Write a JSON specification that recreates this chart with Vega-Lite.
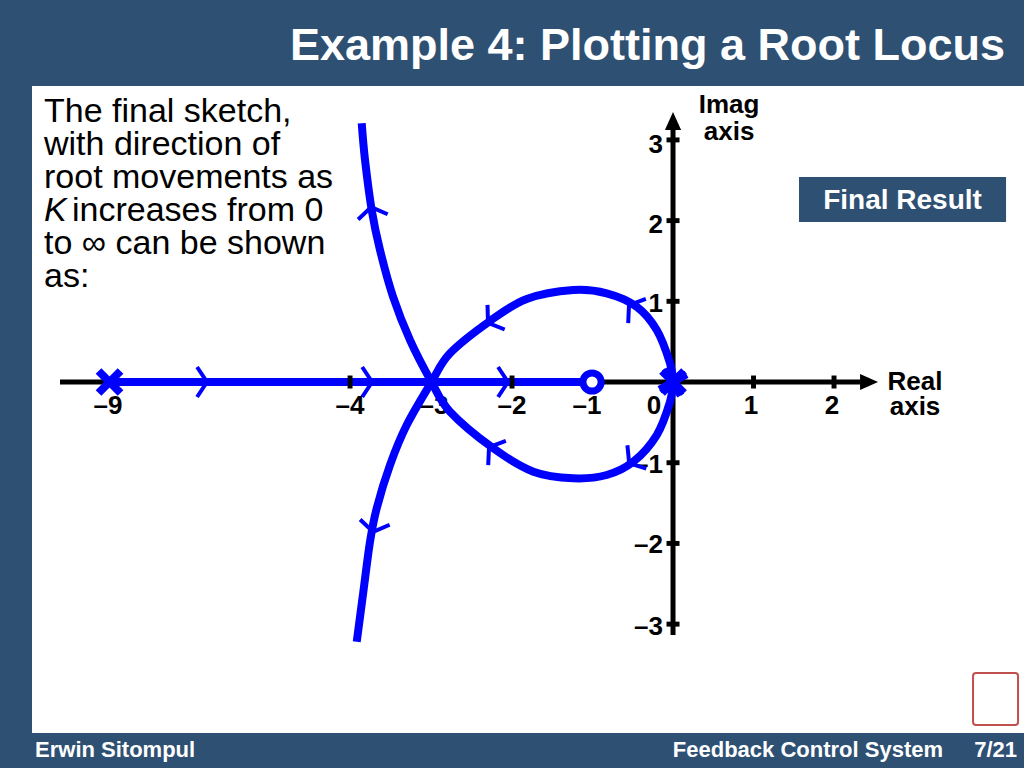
{
  "$schema": "https://vega.github.io/schema/vega-lite/v6.json",
  "width": 992,
  "height": 647,
  "autosize": {"type": "none"},
  "padding": {"left": 32, "top": 86, "right": 0, "bottom": 35},
  "background": "#2e5073",
  "view": {"fill": "#ffffff", "stroke": null},
  "config": {"font": "Liberation Sans"},
  "datasets": {
    "axisH": [{"x": -7.615, "x2": 2.33, "y": 0}],
    "axisV": [{"x": 0, "y": -3.135, "y2": 3.13}],
    "arrows": [{"x": 2.435, "y": 0, "dir": "right"}, {"x": 0, "y": 3.234, "dir": "up"}],
    "realLocus": [{"branch": "R", "order": 1, "x": -7, "y": 0}, {"branch": "R", "order": 2, "x": -1, "y": 0}],
    "ticksX": [{"x": -4.012, "y": 0}, {"x": -3, "y": 0}, {"x": -2, "y": 0}, {"x": -1, "y": 0}, {"x": 1, "y": 0}, {"x": 2, "y": 0}],
    "ticksY": [{"x": 0, "y": 3}, {"x": 0, "y": 2}, {"x": 0, "y": 1}, {"x": 0, "y": -1}, {"x": 0, "y": -2}, {"x": 0, "y": -3}],
    "locus": [
      {"branch": "A", "order": 1, "x": -3.867, "y": 3.206},
      {"branch": "A", "order": 2, "x": -3.826, "y": 2.751},
      {"branch": "A", "order": 3, "x": -3.743, "y": 2.131},
      {"branch": "A", "order": 4, "x": -3.64, "y": 1.636},
      {"branch": "A", "order": 5, "x": -3.478, "y": 1.057},
      {"branch": "A", "order": 6, "x": -3.267, "y": 0.52},
      {"branch": "A", "order": 7, "x": -3.0, "y": 0.0},
      {"branch": "A", "order": 8, "x": -2.77, "y": -0.368},
      {"branch": "A", "order": 9, "x": -2.232, "y": -0.822},
      {"branch": "A", "order": 10, "x": -1.735, "y": -1.112},
      {"branch": "A", "order": 11, "x": -1.239, "y": -1.193},
      {"branch": "A", "order": 12, "x": -0.824, "y": -1.152},
      {"branch": "A", "order": 13, "x": -0.493, "y": -0.987},
      {"branch": "A", "order": 14, "x": -0.202, "y": -0.657},
      {"branch": "A", "order": 15, "x": -0.037, "y": -0.244},
      {"branch": "A", "order": 16, "x": 0, "y": 0},
      {"branch": "B", "order": 1, "x": -3.929, "y": -3.218},
      {"branch": "B", "order": 2, "x": -3.847, "y": -2.599},
      {"branch": "B", "order": 3, "x": -3.764, "y": -1.979},
      {"branch": "B", "order": 4, "x": -3.681, "y": -1.565},
      {"branch": "B", "order": 5, "x": -3.516, "y": -1.029},
      {"branch": "B", "order": 6, "x": -3.308, "y": -0.533},
      {"branch": "B", "order": 7, "x": -3.0, "y": 0.0},
      {"branch": "B", "order": 8, "x": -2.77, "y": 0.356},
      {"branch": "B", "order": 9, "x": -2.273, "y": 0.756},
      {"branch": "B", "order": 10, "x": -1.817, "y": 1.029},
      {"branch": "B", "order": 11, "x": -1.239, "y": 1.14},
      {"branch": "B", "order": 12, "x": -0.824, "y": 1.099},
      {"branch": "B", "order": 13, "x": -0.451, "y": 0.933},
      {"branch": "B", "order": 14, "x": -0.202, "y": 0.644},
      {"branch": "B", "order": 15, "x": -0.037, "y": 0.232},
      {"branch": "B", "order": 16, "x": 0, "y": 0}
    ],
    "chevrons": [
      {"x": -5.851, "y": 0, "heading": 0},
      {"x": -3.8, "y": 0, "heading": 0},
      {"x": -2.112, "y": 0, "heading": 0},
      {"x": -3.739, "y": 2.107, "heading": -100},
      {"x": -3.714, "y": -1.797, "heading": 100},
      {"x": -2.248, "y": 0.768, "heading": 145},
      {"x": -0.497, "y": 0.917, "heading": -144},
      {"x": -2.236, "y": -0.843, "heading": -144},
      {"x": -0.497, "y": -0.967, "heading": 141}
    ],
    "poles": [{"x": -7, "y": 0, "mult": 1}, {"x": 0, "y": 0, "mult": 2}],
    "zeros": [{"x": -1.006, "y": 0}],
    "xLabels": [
      {"x": -7.019, "y": -0.397, "label": "–9"},
      {"x": -4.012, "y": -0.397, "label": "–4"},
      {"x": -2.969, "y": -0.397, "label": "–3"},
      {"x": -2.0, "y": -0.397, "label": "–2"},
      {"x": -1.068, "y": -0.397, "label": "–1"},
      {"x": -0.236, "y": -0.397, "label": "0"},
      {"x": 0.969, "y": -0.397, "label": "1"},
      {"x": 1.975, "y": -0.397, "label": "2"}
    ],
    "yLabels": [
      {"x": -0.124, "y": 2.838, "label": "3"},
      {"x": -0.124, "y": 1.846, "label": "2"},
      {"x": -0.124, "y": 0.867, "label": "1"},
      {"x": -0.124, "y": -1.128, "label": "–1"},
      {"x": -0.124, "y": -2.119, "label": "–2"},
      {"x": -0.124, "y": -3.135, "label": "–3"}
    ],
    "axisTitles": [
      {"x": 0.696, "y": 3.333, "label": "Imag"},
      {"x": 0.696, "y": 2.999, "label": "axis"},
      {"x": 3.006, "y": -0.099, "label": "Real"},
      {"x": 3.006, "y": -0.409, "label": "axis"}
    ],
    "paragraph": [
      {"x": -7.814, "y": 3.222, "label": "The final sketch,"},
      {"x": -7.814, "y": 2.813, "label": "with direction of"},
      {"x": -7.814, "y": 2.404, "label": "root movements as"},
      {"x": -7.466, "y": 1.995, "label": "increases from 0"},
      {"x": -7.814, "y": 1.586, "label": "to ∞ can be shown"},
      {"x": -7.814, "y": 1.177, "label": "as:"}
    ],
    "italicK": [{"x": -7.814, "y": 1.995, "label": "K"}],
    "resultBox": [{"x": 1.565, "x2": 4.137, "y": 1.983, "y2": 2.54}],
    "resultText": [{"x": 2.851, "y": 2.144, "label": "Final Result"}],
    "logo": [{"x": 3.727, "x2": 4.286, "y": -4.25, "y2": -3.606}],
    "title": [{"x": 4.124, "y": 3.99, "label": "Example 4: Plotting a Root Locus"}],
    "footerLeft": [{"x": -7.925, "y": -4.647, "label": "Erwin Sitompul"}],
    "footerRight": [{"x": 3.354, "y": -4.647, "label": "Feedback Control System"}, {"x": 4.273, "y": -4.647, "label": "7/21"}]
  },
  "encoding": {
    "x": {"field": "x", "type": "quantitative", "scale": {"domain": [-7.963, 4.36], "nice": false, "zero": false}, "axis": null},
    "y": {"field": "y", "type": "quantitative", "scale": {"domain": [-4.349, 3.668], "nice": false, "zero": false}, "axis": null}
  },
  "layer": [
    {"data": {"name": "logo"}, "mark": {"type": "rect", "fill": "#ffffff", "stroke": "#c0504d", "strokeWidth": 2, "cornerRadius": 3},
     "encoding": {"x2": {"field": "x2"}, "y2": {"field": "y2"}}},
    {"data": {"name": "resultBox"}, "mark": {"type": "rect", "fill": "#2e5073"},
     "encoding": {"x2": {"field": "x2"}, "y2": {"field": "y2"}}},
    {"data": {"name": "resultText"}, "mark": {"type": "text", "align": "center", "baseline": "alphabetic", "fontSize": 28, "fontWeight": "bold", "color": "#ffffff"},
     "encoding": {"text": {"field": "label"}}},
    {"data": {"name": "xLabels"}, "mark": {"type": "text", "align": "center", "baseline": "alphabetic", "fontSize": 26, "fontWeight": "bold", "color": "#000000"},
     "encoding": {"text": {"field": "label"}}},
    {"data": {"name": "yLabels"}, "mark": {"type": "text", "align": "right", "baseline": "alphabetic", "fontSize": 26, "fontWeight": "bold", "color": "#000000"},
     "encoding": {"text": {"field": "label"}}},
    {"data": {"name": "axisTitles"}, "mark": {"type": "text", "align": "center", "baseline": "alphabetic", "fontSize": 26, "fontWeight": "bold", "color": "#000000"},
     "encoding": {"text": {"field": "label"}}},
    {"data": {"name": "axisH"}, "mark": {"type": "rule", "color": "#000000", "strokeWidth": 5},
     "encoding": {"x2": {"field": "x2"}}},
    {"data": {"name": "axisV"}, "mark": {"type": "rule", "color": "#000000", "strokeWidth": 5},
     "encoding": {"y2": {"field": "y2"}}},
    {"data": {"name": "arrows"}, "mark": {"type": "point", "filled": true, "color": "#000000", "size": 324, "opacity": 1},
     "encoding": {"shape": {"field": "dir", "type": "nominal", "scale": {"domain": ["right", "up"], "range": ["M1,0L-1,0.9L-1,-0.9Z", "M0,-1L0.9,1L-0.9,1Z"]}, "legend": null}}},
    {"data": {"name": "realLocus"}, "mark": {"type": "line", "color": "#0000ff", "strokeWidth": 8, "strokeCap": "butt"},
     "encoding": {"order": {"field": "order", "type": "quantitative"}}},
    {"data": {"name": "ticksX"}, "mark": {"type": "point", "filled": true, "color": "#000000", "size": 169, "opacity": 1, "shape": "M-0.38,-1L0.38,-1L0.38,1L-0.38,1Z"}},
    {"data": {"name": "ticksY"}, "mark": {"type": "point", "filled": true, "color": "#000000", "size": 169, "opacity": 1, "shape": "M-1,-0.38L1,-0.38L1,0.38L-1,0.38Z"}},
    {"data": {"name": "locus"}, "mark": {"type": "line", "color": "#0000ff", "strokeWidth": 8, "strokeCap": "butt", "interpolate": "cardinal"},
     "encoding": {"detail": {"field": "branch", "type": "nominal"}, "order": {"field": "order", "type": "quantitative"}}},
    {"data": {"name": "chevrons"}, "mark": {"type": "point", "filled": false, "color": "#0000ff", "strokeWidth": 4, "size": 900, "opacity": 1, "shape": "M-0.33,-1L0.33,0L-0.33,1"},
     "encoding": {"angle": {"field": "heading", "type": "quantitative", "scale": null}}},
    {"data": {"name": "poles"}, "mark": {"type": "point", "filled": false, "color": "#0000ff", "strokeWidth": 8, "size": 484, "opacity": 1, "shape": "M-1,-1L1,1M-1,1L1,-1"}},
    {"data": {"name": "poles"}, "transform": [{"filter": "datum.mult > 1"}], "mark": {"type": "point", "filled": false, "color": "#0000ff", "strokeWidth": 8, "size": 484, "opacity": 1, "angle": 15, "shape": "M-1,-1L1,1M-1,1L1,-1"}},
    {"data": {"name": "zeros"}, "mark": {"type": "point", "filled": true, "fill": "#ffffff", "stroke": "#0000ff", "strokeWidth": 7, "size": 330, "opacity": 1, "shape": "circle"}},
    {"data": {"name": "paragraph"}, "mark": {"type": "text", "align": "left", "baseline": "alphabetic", "fontSize": 34, "color": "#000000"},
     "encoding": {"text": {"field": "label"}}},
    {"data": {"name": "italicK"}, "mark": {"type": "text", "align": "left", "baseline": "alphabetic", "fontSize": 34, "fontStyle": "italic", "color": "#000000"},
     "encoding": {"text": {"field": "label"}}},
    {"data": {"name": "title"}, "mark": {"type": "text", "align": "right", "baseline": "alphabetic", "fontSize": 45, "fontWeight": "bold", "color": "#ffffff"},
     "encoding": {"text": {"field": "label"}}},
    {"data": {"name": "footerLeft"}, "mark": {"type": "text", "align": "left", "baseline": "alphabetic", "fontSize": 22, "fontWeight": "bold", "color": "#ffffff"},
     "encoding": {"text": {"field": "label"}}},
    {"data": {"name": "footerRight"}, "mark": {"type": "text", "align": "right", "baseline": "alphabetic", "fontSize": 22, "fontWeight": "bold", "color": "#ffffff"},
     "encoding": {"text": {"field": "label"}}}
  ]
}
